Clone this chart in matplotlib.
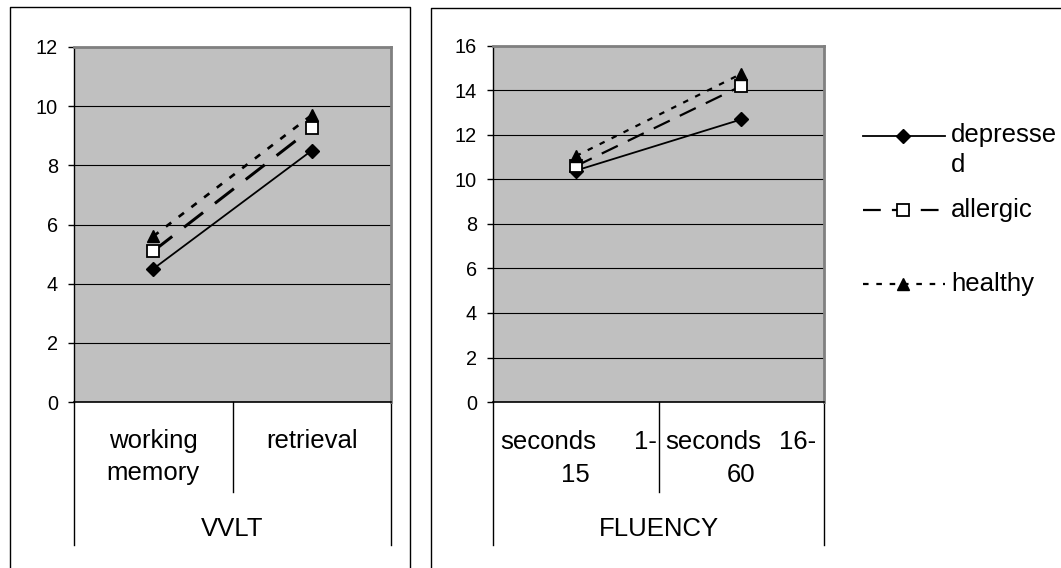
import matplotlib
matplotlib.use("Agg")
import matplotlib.pyplot as plt

plt.rcParams['font.family'] = ['Liberation Sans', 'DejaVu Sans']

# ---------------- data ----------------
groups = ["VVLT", "FLUENCY"]
vvlt_categories = ["working\nmemory", "retrieval"]
fluency_categories = [("seconds", "1-", "15"), ("seconds", "16-", "60")]
series = ["depressed", "allergic", "healthy"]
legend_labels = ["depresse\nd", "allergic", "healthy"]

vvlt_depressed = [4.5, 8.5]
vvlt_allergic = [5.1, 9.25]
vvlt_healthy = [5.6, 9.7]

fluency_depressed = [10.4, 12.7]
fluency_allergic = [10.6, 14.2]
fluency_healthy = [11.05, 14.75]

vvlt_yticks = [0, 2, 4, 6, 8, 10, 12]
fluency_yticks = [0, 2, 4, 6, 8, 10, 12, 14, 16]

# ---------------- styles ----------------
W, H = 1061, 568
TICK_FS = 14.3
TEXT_FS = 18.5
styles = {
    "depressed": dict(color="black", lw=1.3, ls="-", marker="D", ms=6.8,
                      mfc="black", mec="black"),
    "allergic": dict(color="black", lw=1.6, ls=(0, (8, 5)), marker="s", ms=8.2,
                     mfc="white", mec="black", mew=1.3),
    "healthy": dict(color="black", lw=1.6, ls=(0, (2.5, 3.5)), marker="^", ms=9,
                    mfc="black", mec="black"),
}

fig = plt.figure(figsize=(W / 100, H / 100), dpi=100)
fig.patch.set_facecolor("white")

# overlay for frames and legend (pixel coordinates)
ov = fig.add_axes([0, 0, 1, 1])
ov.set_xlim(0, W)
ov.set_ylim(H, 0)
ov.axis("off")
ov.patch.set_visible(False)

ov.plot([10, 10, 410, 410], [H + 5, 7, 7, H + 5], color="black", lw=1, clip_on=False)
ov.plot([431, 431, W + 5], [H + 5, 8, 8], color="black", lw=1, clip_on=False)


def make_axes(left, top, right, bottom):
    return fig.add_axes([left / W, 1 - bottom / H, (right - left) / W, (bottom - top) / H])


def style_axes(ax, yticks, height_px):
    ax.set_facecolor("#C0C0C0")
    ax.set_xlim(0, 2)
    ax.set_ylim(yticks[0], yticks[-1])
    ax.set_yticks(yticks)
    ax.set_xticks([])
    ax.yaxis.grid(True, color="black", lw=0.8)
    ax.set_axisbelow(True)
    ax.tick_params(axis="y", direction="out", length=4.5, width=1, pad=7,
                   labelsize=TICK_FS, colors="black")
    for s in ["top", "right"]:
        ax.spines[s].set_color("#808080")
        ax.spines[s].set_linewidth(2)
    ax.spines["left"].set_color("black")
    ax.spines["bottom"].set_color("black")
    ax.spines["left"].set_linewidth(1)
    ax.spines["bottom"].set_linewidth(1.2)
    trans = ax.get_xaxis_transform()
    for x, depth in [(0, 143), (1, 90), (2, 143)]:
        ax.plot([x, x], [0, -depth / height_px], transform=trans, color="black",
                lw=1, clip_on=False)


def draw_series(ax, values, lw_scale):
    xs = [0.5, 1.5]
    for name, vals in zip(series, values):
        st = styles[name]
        lw = st["lw"] * lw_scale.get(name, 1.0)
        ax.plot(xs, vals, color=st["color"], lw=lw, ls=st["ls"], zorder=3)
        ax.plot(xs, vals, ls="none", marker=st["marker"], ms=st["ms"],
                mfc=st["mfc"], mec=st["mec"], mew=st.get("mew", 1), zorder=4)


# ---- left chart: VVLT ----
ax1 = make_axes(74, 47, 391, 402)
style_axes(ax1, vvlt_yticks, 355)
draw_series(ax1, [vvlt_depressed, vvlt_allergic, vvlt_healthy],
            {"allergic": 1.35, "healthy": 1.2})
for i, lab in enumerate(vvlt_categories):
    ax1.annotate(lab, xy=(i + 0.5, 0), xycoords=("data", "axes fraction"),
                 xytext=(0, -27), textcoords="offset pixels", ha="center", va="top",
                 fontsize=TEXT_FS, linespacing=1.42)
ax1.annotate(groups[0], xy=(1, 0), xycoords=("data", "axes fraction"),
             xytext=(0, -127), textcoords="offset pixels", ha="center", va="center",
             fontsize=TEXT_FS)

# ---- right chart: FLUENCY ----
ax2 = make_axes(493, 46, 824, 402)
style_axes(ax2, fluency_yticks, 356)
draw_series(ax2, [fluency_depressed, fluency_allergic, fluency_healthy], {})
for i, (w1, w2, w3) in enumerate(fluency_categories):
    ax2.annotate(w1, xy=(i, 0), xycoords=("data", "axes fraction"),
                 xytext=(7, -40), textcoords="offset pixels", ha="left", va="center",
                 fontsize=TEXT_FS)
    ax2.annotate(w2, xy=(i + 1, 0), xycoords=("data", "axes fraction"),
                 xytext=(-2 if i == 0 else -8, -40), textcoords="offset pixels",
                 ha="right", va="center", fontsize=TEXT_FS)
    ax2.annotate(w3, xy=(i + 0.5, 0), xycoords=("data", "axes fraction"),
                 xytext=(0, -73), textcoords="offset pixels", ha="center", va="center",
                 fontsize=TEXT_FS)
ax2.annotate(groups[1], xy=(1, 0), xycoords=("data", "axes fraction"),
             xytext=(0, -127), textcoords="offset pixels", ha="center", va="center",
             fontsize=TEXT_FS)

# ---- legend ----
leg_y = [136, 210, 284]
for name, lab, y in zip(series, legend_labels, leg_y):
    st = styles[name]
    ov.plot([863, 945], [y, y], color=st["color"], lw=st["lw"], ls=st["ls"])
    ov.plot([903], [y], ls="none", marker=st["marker"], ms=st["ms"],
            mfc=st["mfc"], mec=st["mec"], mew=st.get("mew", 1))
    if "\n" in lab:
        ov.text(951, y - 13, lab, ha="left", va="top", fontsize=TEXT_FS, linespacing=1.3)
    else:
        ov.text(951, y, lab, ha="left", va="center", fontsize=TEXT_FS)

fig.savefig("out.png", dpi=100, facecolor="white")
